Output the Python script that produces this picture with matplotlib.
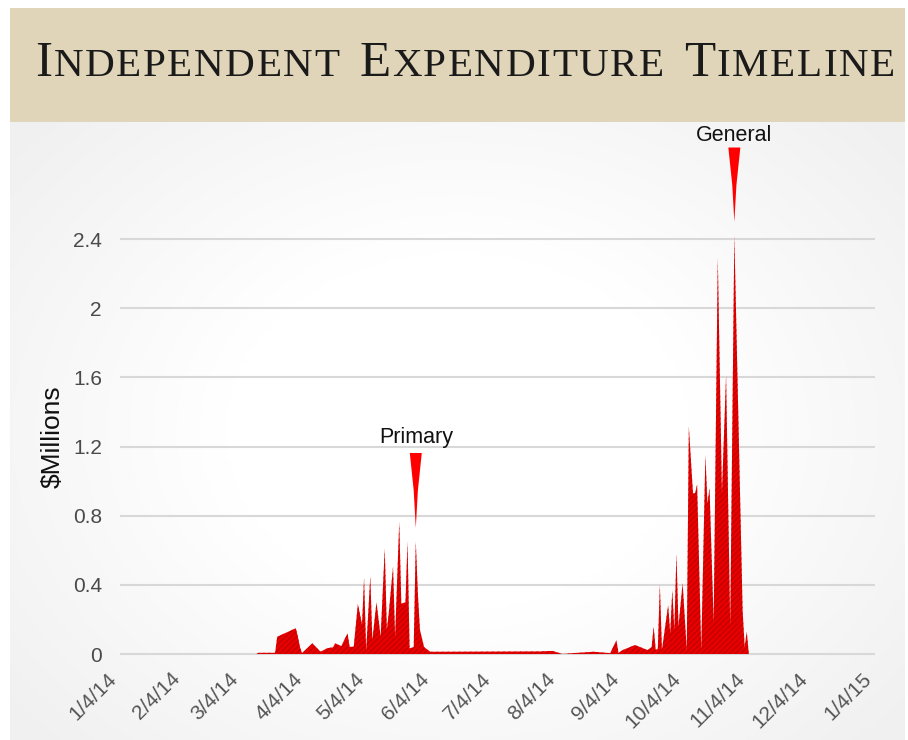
import matplotlib
matplotlib.use('Agg')
import matplotlib.pyplot as plt
import matplotlib.dates as mdates
import matplotlib.transforms as mtransforms
import numpy as np
from matplotlib.patches import Rectangle, Polygon

# ---------------- data ----------------
dates = ['2014-03-11', '2014-03-12', '2014-03-20', '2014-03-21', '2014-03-30', '2014-03-31',
         '2014-04-01', '2014-04-02', '2014-04-07', '2014-04-11', '2014-04-14', '2014-04-17',
         '2014-04-18', '2014-04-21', '2014-04-24', '2014-04-25', '2014-04-27', '2014-04-29',
         '2014-05-01', '2014-05-02', '2014-05-03', '2014-05-05', '2014-05-06', '2014-05-08',
         '2014-05-10', '2014-05-12', '2014-05-13', '2014-05-14', '2014-05-16', '2014-05-17',
         '2014-05-19', '2014-05-20', '2014-05-22', '2014-05-23', '2014-05-24', '2014-05-26',
         '2014-05-27', '2014-05-28', '2014-05-29', '2014-05-31', '2014-06-03', '2014-07-26',
         '2014-08-01', '2014-08-06', '2014-08-11', '2014-08-21', '2014-08-29', '2014-09-01',
         '2014-09-02', '2014-09-04', '2014-09-10', '2014-09-16', '2014-09-18', '2014-09-19',
         '2014-09-20', '2014-09-21', '2014-09-22', '2014-09-23', '2014-09-26', '2014-09-27',
         '2014-09-28', '2014-09-29', '2014-09-30', '2014-10-01', '2014-10-03', '2014-10-05',
         '2014-10-06', '2014-10-08', '2014-10-09', '2014-10-10', '2014-10-12', '2014-10-14',
         '2014-10-15', '2014-10-16', '2014-10-18', '2014-10-20', '2014-10-22', '2014-10-24',
         '2014-10-26', '2014-10-28', '2014-11-01', '2014-11-02', '2014-11-03', '2014-11-04']
values = [0.0, 0.007, 0.007, 0.10, 0.149, 0.10,
          0.04, 0.005, 0.062, 0.013, 0.033, 0.039,
          0.062, 0.046, 0.12, 0.042, 0.042, 0.29,
          0.17, 0.44, 0.02, 0.45, 0.08, 0.30,
          0.10, 0.61, 0.14, 0.245, 0.505, 0.10,
          0.765, 0.29, 0.30, 0.65, 0.033, 0.04,
          0.65, 0.35, 0.14, 0.04, 0.013, 0.015,
          0.018, 0.0, 0.005, 0.013, 0.005, 0.08,
          0.005, 0.023, 0.052, 0.023, 0.04, 0.158,
          0.023, 0.03, 0.40, 0.023, 0.283, 0.12,
          0.37, 0.14, 0.58, 0.16, 0.41, 0.02,
          1.315, 0.93, 0.93, 0.98, 0.02, 1.15,
          0.87, 0.96, 0.18, 2.29, 0.93, 1.61,
          0.16, 2.42, 0.25, 0.04, 0.13, 0.0]

tick_dates = ['2014-01-04', '2014-02-04', '2014-03-04', '2014-04-04', '2014-05-04', '2014-06-04',
              '2014-07-04', '2014-08-04', '2014-09-04', '2014-10-04', '2014-11-04', '2014-12-04',
              '2015-01-04']
tick_labels = ['1/4/14', '2/4/14', '3/4/14', '4/4/14', '5/4/14', '6/4/14', '7/4/14',
               '8/4/14', '9/4/14', '10/4/14', '11/4/14', '12/4/14', '1/4/15']
y_ticks = [0, 0.4, 0.8, 1.2, 1.6, 2.0, 2.4]
y_tick_labels = ['0', '0.4', '0.8', '1.2', '1.6', '2', '2.4']

event_names = ['Primary', 'General']
event_dates = ['2014-05-27', '2014-10-28']
event_tip = [0.73, 2.50]
event_top = [1.163, 2.93]
event_label_y = [1.255, 3.0]

title_words = ['INDEPENDENT', 'EXPENDITURE', 'TIMELINE']

# ---------------- figure ----------------
W, H = 908, 740
fig = plt.figure(figsize=(W / 100, H / 100), dpi=100)
fig.patch.set_facecolor('white')

# faint background tint (lighter in the middle)
bg = fig.add_axes([10 / W, 0, 895 / W, 1 - 122 / H], zorder=-5)
gx = np.linspace(-1, 1, 200)
gy = np.linspace(-1, 1, 160)
GX, GY = np.meshgrid(gx, gy)
dist = np.sqrt((GX * 0.95) ** 2 + (GY * 0.85) ** 2)
shade = 1.0 - 0.055 * np.clip((dist - 0.5) / 0.7, 0, 1)
bg.imshow(np.dstack([shade, shade, shade]), aspect='auto', extent=(0, 1, 0, 1),
          interpolation='bilinear')
bg.set_xlim(0, 1)
bg.set_ylim(0, 1)
bg.set_axis_off()

# header band
fig.patches.append(Rectangle((10 / W, 1 - 122 / H), 895 / W, 114 / H,
                             transform=fig.transFigure, facecolor='#e0d4b9',
                             edgecolor='none', zorder=0))

# title in small caps
renderer = fig.canvas.get_renderer()
big0, small0 = 39.0, 31.5
serif = 'Liberation Serif'


def measure(ch, size):
    t = fig.text(0, 0, ch, fontsize=size, family=serif)
    w = t.get_window_extent(renderer).width
    t.remove()
    return w


x_start, x_end, word_gap = 35.0, 895.0, 20.0
scale = 1.0
for _ in range(3):
    widths = []
    for word in title_words:
        widths.append([measure(c, (big0 if i == 0 else small0) * scale) for i, c in enumerate(word)])
    total = sum(sum(w) for w in widths)
    n_gaps = sum(len(w) - 1 for w in widths)
    avail = (x_end - x_start) - word_gap * (len(title_words) - 1)
    track = (avail - total) / n_gaps
    if track < 1.0:
        scale *= (avail - n_gaps * 1.5) / total
    else:
        break

x = x_start
baseline = 1 - 76 / H
for wi, word in enumerate(title_words):
    for i, c in enumerate(word):
        size = (big0 if i == 0 else small0) * scale
        fig.text(x / W, baseline, c, fontsize=size, family=serif, color='#1a1a1a',
                 va='baseline', ha='left')
        x += widths[wi][i] + track
    x += word_gap - track

# ---------------- axes ----------------
ax = fig.add_axes([120 / W, 0.1092, 755 / W, 0.7148])
ax.set_facecolor('none')
xd = np.array(dates, dtype='datetime64[D]')
plt.rcParams['hatch.linewidth'] = 0.6
ax.fill_between(xd, values, 0, facecolor='#e60000', edgecolor='#b30000',
                hatch='//////', linewidth=0, zorder=3)

ax.set_xlim(np.datetime64(tick_dates[0]), np.datetime64(tick_dates[-1]))
ax.set_ylim(-0.03, 3.03)

ax.set_yticks(y_ticks)
ax.set_yticklabels(y_tick_labels, fontsize=15, color='#4a4a4a', family='Liberation Sans')
ax.set_xticks(np.array(tick_dates, dtype='datetime64[D]'))
ax.set_xticklabels(tick_labels, fontsize=15, color='#555555', family='Liberation Sans',
                   rotation=45, ha='right')
offset = mtransforms.ScaledTranslation(3 / 100, 0, fig.dpi_scale_trans)
for lbl in ax.get_xticklabels():
    lbl.set_transform(lbl.get_transform() + offset)
ax.tick_params(axis='both', length=0)
ax.tick_params(axis='y', pad=13)
ax.tick_params(axis='x', pad=7)
ax.yaxis.grid(True, color='#d8d8d8', linewidth=1.5)
ax.xaxis.grid(False)
ax.set_axisbelow(True)
for s in ax.spines.values():
    s.set_visible(False)

fig.text(53 / W, 1 - 437 / H, '$Millions', rotation=90, ha='center', va='center',
         fontsize=19, color='#111111', family='Liberation Sans')

# event markers
hw = 2.9
for name, d, tip, top, ly in zip(event_names, event_dates, event_tip, event_top, event_label_y):
    c = mdates.date2num(np.datetime64(d))
    mid = top - 0.5 * (top - tip)
    poly = Polygon([(c - hw, top), (c + hw, top), (c + 0.35 * hw, mid), (c, tip),
                    (c - 0.35 * hw, mid)], closed=True, facecolor='#ff0000',
                   edgecolor='none', zorder=4, clip_on=False)
    ax.add_patch(poly)
    ax.text(c, ly, name, ha='center', va='center', fontsize=15.5, color='#111111',
            family='Liberation Sans', clip_on=False)

fig.savefig('out.png', dpi=100)
